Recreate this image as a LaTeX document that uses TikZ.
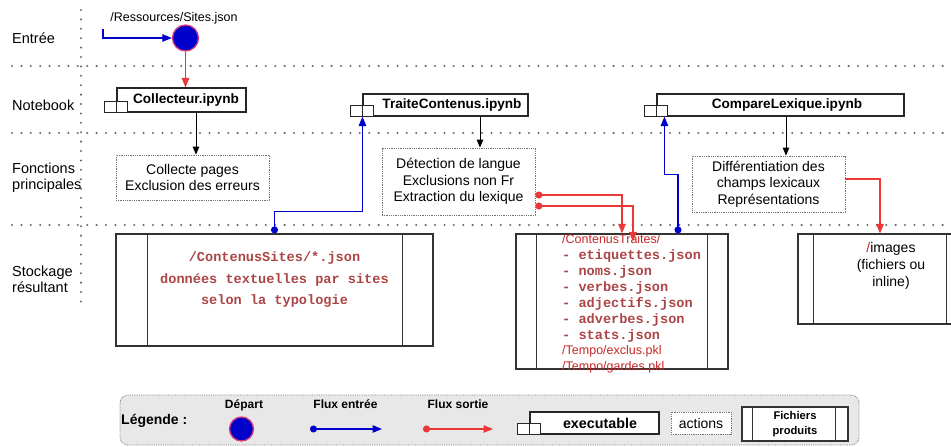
\documentclass[tikz,border=0pt]{standalone}
\usepackage{fontspec}
\setmainfont{Liberation Sans}
\setmonofont{Liberation Mono}
\usetikzlibrary{arrows.meta}
\pgfdeclarelayer{background}
\pgfsetlayers{background,main}
\definecolor{blueflow}{RGB}{0,0,204}
\definecolor{redflow}{RGB}{235,55,55}
\definecolor{pathred}{RGB}{200,40,40}
\definecolor{darkred}{RGB}{172,70,70}
\definecolor{dotgray}{RGB}{105,105,105}
\definecolor{legfill}{RGB}{232,232,232}
\definecolor{depborder}{RGB}{215,60,120}
\newcommand\fsz[2]{\fontsize{#1}{#2}\selectfont}
\newcommand\pathsans{\normalfont\fontsize{12.5}{15.9}\selectfont\color{pathred}}
\newcommand\pathmono{\ttfamily\bfseries\fontsize{13.6}{15.9}\selectfont\color{darkred}}
\newcommand\exetabs[1]{%
  \draw[tabbox] ([xshift=-12pt]#1.south west) rectangle ([yshift=11pt]#1.south west);
  \draw[tabbox] (#1.south west) rectangle ([xshift=11pt,yshift=11pt]#1.south west);}
\newcommand\storelines[3]{%
  \draw[storeline] ([xshift=#2]#1.north west) -- ([xshift=#2]#1.south west);
  \draw[storeline] ([xshift=-#3]#1.north east) -- ([xshift=-#3]#1.south east);}
\tikzset{
  lanesep/.style={draw=dotgray, line width=2.3pt, line cap=round, dash pattern=on 0pt off 9.4pt},
  lanelbl/.style={anchor=west, align=left, inner sep=0pt, font=\fsz{14.5}{16}},
  exebox/.style={draw=black!85, line width=1.1pt, fill=white, inner sep=0pt, font=\bfseries\fsz{13.6}{16}},
  tabbox/.style={draw=black!85, line width=1.1pt, fill=white},
  actbox/.style={draw=black!55, densely dotted, line width=0.8pt, fill=white, align=center, inner sep=0pt, font=\fsz{14}{16.5}},
  storebox/.style={draw=black!80, line width=1.2pt, fill=white, inner sep=0pt},
  storeline/.style={draw=black!80, line width=1.2pt},
  flowin/.style={draw=blueflow, line width=1.1pt, arrows=-{Triangle[length=9.5pt,width=7.5pt]}},
  flowout/.style={draw=redflow, line width=1.1pt, arrows=-{Triangle[length=9.5pt,width=7.5pt]}},
  dotstart/.style={arrows={{Circle[length=7pt]}-{Triangle[length=9.5pt,width=7.5pt]}}},
  callarrow/.style={draw=black, line width=1pt, arrows=-{Triangle[length=8pt,width=6.5pt]}},
  depart/.style={circle, fill=blueflow, draw=depborder, line width=1.3pt, inner sep=0pt},
  pathmonobox/.style={font=\ttfamily\bfseries\fsz{13.6}{21.5}, text=darkred, align=center, inner sep=0pt},
  legtxt/.style={font=\bfseries\fsz{12}{14}, inner sep=0pt}
}
\begin{document}
\begin{tikzpicture}[x=1pt,y=-1pt]
\useasboundingbox (0,0) rectangle (951,447);
\fill[white] (0,0) rectangle (951,447);

% lane separators
\draw[lanesep] (81,10) -- (81,308);
\draw[lanesep] (12,66) -- (951,66);
\draw[lanesep] (12,133) -- (951,133);
\draw[lanesep] (12,225) -- (951,225);

% lane labels
\node[lanelbl] (lEntree) at (12,38) {Entrée};
\node[lanelbl] (lNote) at (12,105) {Notebook};
\node[lanelbl] (lFonc) at (12,178) {Fonctions\\principales};
\node[lanelbl] (lStock) at (12,279) {Stockage\\résultant};

% input
\node[font=\fsz{12.5}{14}, inner sep=0pt] (srcl) at (174,18) {/Ressources/Sites.json};
\node[depart, minimum size=26pt] (dep) at (185.5,38) {};
\coordinate (src) at (103,29);
\draw[flowin] (src) |- (dep.west);

% notebooks
\node[exebox, minimum width=129pt, minimum height=24pt] (coll) at (181.5,100) {\hspace*{9pt}Collecteur.ipynb};
\exetabs{coll}
\node[exebox, minimum width=165pt, minimum height=22pt] (tc) at (445.5,105) {\hspace*{13pt}TraiteContenus.ipynb};
\exetabs{tc}
\node[exebox, minimum width=247pt, minimum height=22pt] (cl) at (780.5,105) {\hspace*{13pt}CompareLexique.ipynb};
\exetabs{cl}

% actions
\node[actbox, minimum width=153pt, minimum height=45pt] (cfp) at (192.5,177.5) {Collecte pages\\Exclusion des erreurs};
\node[actbox, minimum width=153pt, minimum height=67pt] (det) at (458.5,181.5) {Détection de langue\\Exclusions non Fr\\Extraction du lexique};
\node[actbox, minimum width=153pt, minimum height=56pt] (diff) at (768.5,184) {Différentiation des\\champs lexicaux\\Représentations};

% storage
\node[storebox, minimum width=317pt, minimum height=112pt] (st1) at (274.5,290) {};
\storelines{st1}{32pt}{31pt}
\node[pathmonobox] (st1t) at (274.5,280) {/ContenusSites/*.json\\données textuelles par sites\\selon la typologie};

\node[storebox, minimum width=212pt, minimum height=135pt] (st2) at (622,301.5) {};
\storelines{st2}{21pt}{21pt}
\node[anchor=west, align=left, inner sep=0pt, font=\fsz{13.6}{15.9}] (st2t) at (562,304) {\pathsans /ContenusTraites/\\\pathmono - etiquettes.json\\\pathmono - noms.json\\\pathmono - verbes.json\\\pathmono - adjectifs.json\\\pathmono - adverbes.json\\\pathmono - stats.json\\\pathsans /Tempo/exclus.pkl\\\pathsans /Tempo/gardes.pkl};

\node[storebox, minimum width=164pt, minimum height=90pt] (st3) at (880,279) {};
\storelines{st3}{16pt}{16pt}
\node[align=center, inner sep=0pt, font=\fsz{14}{17}] (st3t) at (891,266) {{\color{pathred}/}images\\(fichiers ou\\inline)};

% connectors
\draw[flowout] (dep.south) -- (dep.south |- coll.north);
\draw[callarrow] ([xshift=14.5pt]coll.south) -- ([xshift=14.5pt]coll.south |- cfp.north);
\draw[callarrow] ([xshift=34.5pt]tc.south) -- ([xshift=34.5pt]tc.south |- det.north);
\draw[callarrow] ([xshift=5.5pt]cl.south) -- ([xshift=5.5pt]cl.south |- diff.north);
\begin{pgfonlayer}{background}
\draw[flowout, dotstart, shorten >=6pt] ([xshift=15.5pt]cfp.south) -- ([xshift=15.5pt]cfp.south |- st1.north);
\end{pgfonlayer}
\draw[flowin, dotstart] (st1.north) -- ++(0,-22) -| (tc.south west);
\draw[flowout, dotstart] ([yshift=-13.5pt]det.east) -| (st2.north);
\draw[flowout, dotstart] ([yshift=-24.5pt]det.east) -| ([xshift=11pt,yshift=-8pt]st2.north);
\draw[flowin, dotstart] ([xshift=56pt]st2.north) -- ++(0,-59) -| ([xshift=8pt]cl.south west);
\draw[flowout] ([yshift=5pt]diff.east) -| (st3.north);

% legend
\node[draw=black!50, densely dotted, line width=0.8pt, fill=legfill, rounded corners=8pt, minimum width=739pt, minimum height=50pt] (leg) at (489.5,420) {};
\node[anchor=west, inner sep=0pt, font=\bfseries\fsz{14}{16}] (legt) at (121,421) {Légende :};
\node[legtxt] (ldept) at (244,405) {Départ};
\node[depart, minimum size=24pt] (ldep) at (241.5,429) {};
\node[legtxt] (lint) at (345.5,404) {Flux entrée};
\coordinate (li1) at (310,429);
\coordinate (li2) at (382,429);
\draw[flowin, dotstart] (li1) -- (li2);
\node[legtxt] (loutt) at (458,404) {Flux sortie};
\coordinate (lo1) at (423,429);
\coordinate (lo2) at (493,429);
\draw[flowout, dotstart] (lo1) -- (lo2);
\node[exebox, minimum width=129pt, minimum height=22pt, font=\bfseries\fsz{14.3}{16}] (lexe) at (594.5,423) {\hspace*{11pt}executable};
\exetabs{lexe}
\node[actbox, minimum width=60pt, minimum height=22pt] (lact) at (701,423) {actions};
\node[storebox, minimum width=106pt, minimum height=34pt, font=\bfseries\fsz{11.2}{15}, align=center] (lfic) at (795,424) {Fichiers\\produits};
\storelines{lfic}{11pt}{13pt}
\end{tikzpicture}
\end{document}
